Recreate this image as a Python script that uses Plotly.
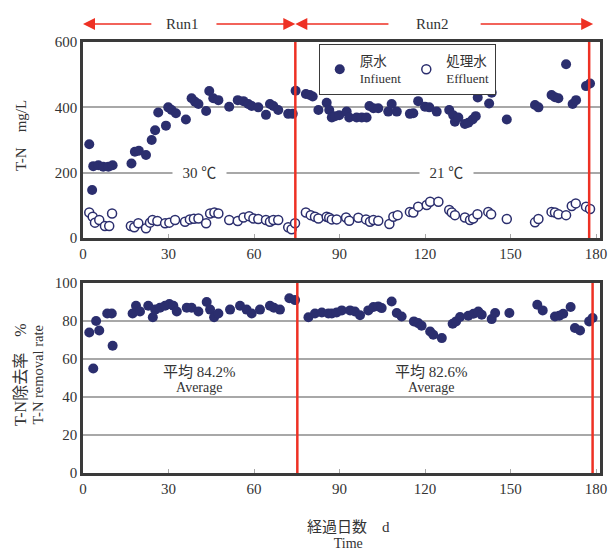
import plotly.graph_objects as go

# ---------------- data ----------------
inf_days = [2.2, 3.2, 3.6, 5.4, 7.1, 8.9, 10.4, 17, 18.2, 19.6, 22.1, 24.1, 25.3, 26.4, 29.1, 29.9,
            31.1, 32.6, 36.1, 38.1, 39.3, 40.5, 43.2, 44.3, 45.7, 47.5, 51.3, 54.3, 56.3, 58.0, 59.2,
            61.5, 64.2, 65.6, 66.8, 68.5, 72.0, 73.6, 74.6, 78.2, 79.6, 80.6, 82.6, 85.5, 86.4, 87.3,
            88.4, 89.9, 92.5, 93.4, 96.0, 97.8, 99.5, 100.5, 101.9, 103.6, 107.1, 108.3, 110.1, 114.7,
            115.9, 117.6, 120.0, 121.5, 124.1, 128.5, 129.9, 130.5, 131.7, 134.0, 135.2, 136.7, 137.8,
            138.5, 142.5, 143.4, 148.7, 158.6, 159.8, 164.4, 165.6, 166.8, 169.5, 171.8, 173.0, 176.5, 177.9]
inf_vals = [287, 147, 220, 223, 218, 218, 223, 228, 264, 267, 254, 300, 330, 384, 344, 400,
            392, 382, 363, 428, 417, 410, 389, 450, 428, 422, 402, 422, 419, 410, 404,
            400, 377, 410, 404, 392, 380, 380, 451, 441, 438, 433, 392, 414, 392, 369,
            373, 376, 387, 369, 369, 369, 369, 404, 397, 397, 387, 410, 387, 380,
            382, 419, 402, 400, 387, 392, 376, 356, 369, 349, 353, 363, 373,
            430, 412, 445, 363, 407, 400, 438, 431, 428, 532, 410, 422, 465, 473]

eff_days = [2.2, 3.4, 4.2, 5.7, 7.7, 9.2, 10.2, 16.8, 18.0, 19.4, 22.1, 23.5, 24.4, 26.1, 28.8,
            30.3, 32.3, 35.8, 37.5, 38.9, 40.5, 43.2, 44.6, 46.1, 47.5, 51.3, 54.3, 56.3, 58.3,
            59.8, 61.5, 64.2, 65.6, 66.8, 68.5, 72.0, 73.2, 74.4,
            78.2, 79.9, 81.4, 82.6, 85.5, 86.4, 87.3, 89.0, 92.3, 93.4, 96.6, 99.3, 100.7, 101.9,
            103.6, 107.5, 108.9, 110.4, 114.7, 115.9, 117.6, 120.6, 121.8, 124.7, 128.5, 129.4,
            130.5, 134.0, 135.8, 136.9, 138.4, 142.2, 143.2, 148.7, 158.6, 159.8, 164.4, 165.6,
            166.8, 169.5, 171.5, 172.9, 176.5, 177.9]
eff_vals = [78, 65, 47, 55, 37, 37, 75, 37, 33, 45, 30, 47, 55, 52, 45,
            47, 55, 50, 57, 59, 60, 45, 75, 78, 75, 55, 52, 63, 67,
            60, 58, 55, 50, 55, 55, 33, 27, 45,
            78, 70, 65, 60, 65, 62, 57, 57, 63, 53, 62, 57, 50, 55,
            53, 43, 65, 70, 80, 78, 96, 101, 111, 111, 86, 78,
            70, 63, 55, 60, 73, 80, 73, 58, 48, 58, 80, 78,
            73, 70, 98, 106, 96, 89]

rate_days = [2.2, 3.6, 4.6, 5.7, 8.5, 10.1, 10.4, 17.4, 18.6, 20.0, 22.9, 24.5, 25.3, 27.0, 28.8,
             30.3, 31.7, 32.9, 36.4, 38.1, 40.5, 43.4, 44.6, 46.0, 47.5, 51.6, 55.1, 57.4, 59.2,
             62.1, 65.6, 67.0, 69.1, 72.4, 74.4,
             79.1, 81.4, 83.8, 86.1, 87.3, 89.0, 90.8, 93.7, 95.4, 97.2, 100.1, 101.9, 103.6, 104.8,
             108.3, 110.1, 111.8, 116.1, 117.6, 118.8, 121.8, 122.9, 125.9, 129.7, 130.9, 132.3,
             135.2, 137.0, 138.7, 139.9, 143.4, 144.6, 149.6, 159.4, 161.3, 165.6, 167.1, 168.5,
             171.1, 172.6, 174.4, 177.6, 178.8]
rate_vals = [74, 55, 80, 75, 84, 84, 67, 84, 88, 85, 88, 82, 86, 87, 88,
             89, 88, 85, 87, 87, 85, 90, 86, 82, 84, 86, 88, 86, 84,
             86, 88, 87, 86, 92, 91,
             82, 84, 84.5, 84, 84, 84.5, 85.6, 85.6, 85, 83, 85.6, 87.4, 87.7, 86.8,
             90.3, 84.2, 82.4, 79.8, 78.9, 77.5, 74.5, 72.8, 71, 78.6, 79.8, 82.1,
             82.8, 83.8, 85, 83.3, 81, 84.2, 84.2, 88.6, 85.6, 82.4, 82.8, 83.8,
             87.4, 76.3, 75, 79.8, 81.6]

x_ticks = [0, 30, 60, 90, 120, 150, 180]
run_bounds_top = [74.5, 177.6]
run_bounds_bottom = [75.2, 178.8]
run_labels = ["Run1", "Run2"]
temps = ["30 ℃", "21 ℃"]
averages = ["平均 84.2%", "平均 82.6%"]

# ---------------- styling ----------------
NAVY = "#2b2e6e"
RED = "#ee3124"
FRAME = "#3a3a3a"
GRID = "#a8a8a8"
TXT = "#333333"
FONT = "Liberation Serif, Noto Sans CJK JP, serif"

fig = go.Figure()
fig.add_trace(go.Scatter(
    x=inf_days, y=inf_vals, mode="markers", xaxis="x", yaxis="y",
    name="原水<br><span style='font-size:13px'>Infiuent</span>",
    marker=dict(color=NAVY, size=10, line=dict(width=0))))
fig.add_trace(go.Scatter(
    x=eff_days, y=eff_vals, mode="markers", xaxis="x", yaxis="y",
    name="処理水<br><span style='font-size:13px'>Effluent</span>",
    marker=dict(color="white", size=9, line=dict(color=NAVY, width=1.5))))
fig.add_trace(go.Scatter(
    x=rate_days, y=rate_vals, mode="markers", xaxis="x2", yaxis="y2",
    showlegend=False, marker=dict(color=NAVY, size=10, line=dict(width=0))))

axis_common = dict(showline=True, linecolor=FRAME, linewidth=2.5, mirror=True,
                   tickfont=dict(family=FONT, size=15, color=TXT),
                   zeroline=False)
xrng = [0, 181.4]
fig.update_layout(
    width=609, height=550,
    margin=dict(l=83, r=9, t=42, b=77, autoexpand=False),
    paper_bgcolor="white", plot_bgcolor="white",
    font=dict(family=FONT, color=TXT),
    xaxis=dict(domain=[0, 1], range=xrng, tickvals=x_ticks, showgrid=False,
               ticks="inside", ticklen=4, tickcolor=GRID, anchor="y", **axis_common),
    yaxis=dict(domain=[0.5452, 1], range=[0, 600], tickvals=[0, 200, 400, 600],
               showgrid=True, gridcolor=GRID, gridwidth=1.5, ticks="", anchor="x",
               **axis_common),
    xaxis2=dict(domain=[0, 1], range=xrng, tickvals=x_ticks, showgrid=False,
                ticks="inside", ticklen=4, tickcolor=GRID, anchor="y2", **axis_common),
    yaxis2=dict(domain=[0, 0.4408], range=[0, 100], tickvals=[0, 20, 40, 60, 80, 100],
                showgrid=True, gridcolor=GRID, gridwidth=1.5, ticks="", anchor="x2",
                **axis_common),
    legend=dict(orientation="h", x=0.456, y=0.995, xanchor="left", yanchor="top",
                bgcolor="white", bordercolor=FRAME, borderwidth=1,
                font=dict(family=FONT, size=13.5, color=TXT),
                itemwidth=30, tracegroupgap=0),
    showlegend=True,
)

# red run boundary lines
for xv in run_bounds_top:
    fig.add_shape(type="line", xref="x", yref="y domain", x0=xv, x1=xv, y0=0, y1=1,
                  line=dict(color=RED, width=2.5))
for xv in run_bounds_bottom:
    fig.add_shape(type="line", xref="x2", yref="y2 domain", x0=xv, x1=xv, y0=0, y1=1,
                  line=dict(color=RED, width=2.5))

# run arrows above the top plot
ARROW_Y = 1.0418
arrow_specs = [(0, 24.5), (run_bounds_top[0], 46.3), (run_bounds_top[0], 107.7), (179.0, 139.0)]
for tip, tail in arrow_specs:
    fig.add_annotation(x=tip, y=ARROW_Y, xref="x", yref="paper", ax=tail, ay=0,
                       axref="x", ayref="pixel", text="", showarrow=True,
                       xanchor="center", yanchor="middle",
                       arrowhead=2, arrowsize=1.6, arrowwidth=1.5, arrowcolor=RED)
for lbl, xc in zip(run_labels, [34.8, 122.8]):
    fig.add_annotation(x=xc, y=ARROW_Y, xref="x", yref="paper", text=lbl, showarrow=False,
                       xanchor="center", yanchor="middle",
                       font=dict(family=FONT, size=15, color=TXT))

# temperature labels on the 200 grid line
for t, xc in zip(temps, [41.0, 127.6]):
    fig.add_annotation(x=xc, y=200, xref="x", yref="y", text="\u2002" + t + "\u2002",
                       showarrow=False, bgcolor="white", borderpad=2,
                       xanchor="center", yanchor="middle",
                       font=dict(family=FONT, size=15, color=TXT))

# averages in the bottom plot
for a, xc in zip(averages, [41.0, 122.3]):
    fig.add_annotation(x=xc, y=49.1, xref="x2", yref="y2",
                       text="<span style='font-size:15px'>" + a + "</span><br>"
                            "<span style='font-size:14px'>Average</span>",
                       showarrow=False, xanchor="center", yanchor="middle",
                       font=dict(family=FONT, size=11.5, color=TXT))

# axis titles
fig.add_annotation(x=-0.1199, y=0.782, xref="paper", yref="paper", text="T-N\u3000mg/L",
                   textangle=-90, showarrow=False, xanchor="center", yanchor="middle",
                   font=dict(family=FONT, size=15, color=TXT))
fig.add_annotation(x=-0.105, y=0.229, xref="paper", yref="paper",
                   text="<span style='font-size:16px'>T-N除去率\u3000%</span><br>"
                        "<span style='font-size:14.5px'>T-N removal rate</span>",
                   textangle=-90, showarrow=False, xanchor="center", yanchor="middle",
                   font=dict(family=FONT, size=12.5, color=TXT))
fig.add_annotation(x=0.5126, y=-0.1439, xref="paper", yref="paper",
                   text="<span style='font-size:15px'>経過日数\u3000d</span><br>"
                        "<span style='font-size:14px'>Time</span>",
                   showarrow=False, xanchor="center", yanchor="middle",
                   font=dict(family=FONT, size=12.5, color=TXT))

fig.write_html("out.html", config={"displayModeBar": False},
               post_script="document.body.style.margin='0';")
